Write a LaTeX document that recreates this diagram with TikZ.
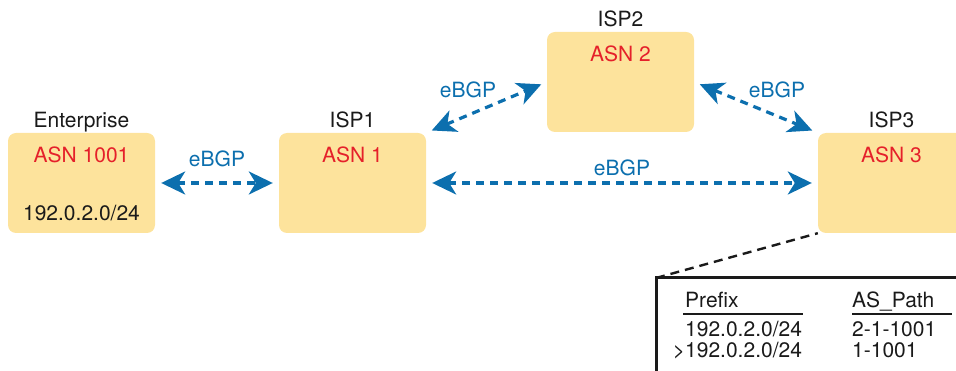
\documentclass[tikz,border=0pt]{standalone}
\usepackage{fontspec}
\setmainfont{TeX Gyre Heros}
\usetikzlibrary{positioning,arrows.meta}
\definecolor{asfill}{HTML}{FDE39C}
\definecolor{asred}{HTML}{E5202A}
\definecolor{peer}{HTML}{0C6FAE}
\definecolor{ink}{HTML}{1A1A1A}
\tikzset{
  asbox/.style={fill=asfill, rounded corners=8pt, minimum width=147pt, minimum height=100pt, inner sep=0pt},
  tag/.style={font=\fontsize{21}{25}\selectfont, text=ink, inner sep=0pt, anchor=base},
  asn/.style={tag, text=asred},
  lbl/.style={tag, text=peer},
  link/.style={{Stealth[length=24pt,width=23pt,inset=7pt]}-{Stealth[length=24pt,width=23pt,inset=7pt]},
               draw=peer, line width=3.2pt, dash pattern=on 8pt off 6pt, shorten <=6pt, shorten >=6pt},
  callout/.style={draw=ink, line width=2.4pt, dash pattern=on 9pt off 6pt},
  frame/.style={draw=ink, line width=3pt},
  rule/.style={draw=ink, line width=1.3pt},
}
\begin{document}
\begin{tikzpicture}[x=1pt, y=-1pt]
\clip (0,0) rectangle (956,371);

% --- autonomous systems ---
\node[asbox] (ent)  at (81.5,183) {};
\node[asbox] (isp1) at (352.5,183) {};
\node[asbox] (isp2) at (620.5,82) {};
\node[asbox] (isp3) at (891.5,183) {};

\node[tag] (entname)  at ([yshift=5pt]ent.north)  {Enterprise};
\node[tag] (isp1name) at ([yshift=5pt]isp1.north) {ISP1};
\node[tag] (isp2name) at ([yshift=5pt]isp2.north) {ISP2};
\node[tag] (isp3name) at ([yshift=5pt]isp3.north) {ISP3};

\node[asn] (entasn)  at ([yshift=-30pt]ent.north)  {ASN 1001};
\node[asn] (isp1asn) at ([yshift=-30pt]isp1.north) {ASN 1};
\node[asn] (isp2asn) at ([yshift=-30pt]isp2.north) {ASN 2};
\node[asn] (isp3asn) at ([yshift=-30pt]isp3.north) {ASN 3};
\node[tag] (entpfx)  at ([yshift=13pt]ent.south)   {192.0.2.0/24};

% --- eBGP peerings ---
\draw[link] (ent.east) -- node[lbl, yshift=16pt] {eBGP} (isp1.west);
\draw[link] (isp1.east) -- node[lbl, yshift=7pt] {eBGP} (isp3.west);
\draw[link] (isp1.north east) -- node[lbl, xshift=-18.5pt, yshift=9.5pt] {eBGP} (isp2.west);
\draw[link] (isp2.east) -- node[lbl, xshift=21pt, yshift=9.5pt] {eBGP} (isp3.north west);

% --- ISP3 BGP table ---
\coordinate (tab) at (656,278);
\draw[callout] (tab) -- (isp3.south west);
\draw[frame] ([yshift=-110pt]tab) -- (tab) -- ([xshift=320pt]tab);

\node[tag, anchor=base west] (hdpfx)  at (685,308) {Prefix};
\node[tag, anchor=base west] (hdpath) at (852,308) {AS\_Path};
\draw[rule] ([xshift=-2pt,yshift=-6pt]hdpfx.base west) -- ++(120,0);
\draw[rule] ([yshift=-6pt]hdpath.base west) -- ++(100,0);

\node[tag, anchor=base west] (r1pfx)  at (685,337) {192.0.2.0/24};
\node[tag, anchor=base west] (r1path) at (852,337) {2-1-1001};
\node[tag, anchor=base east] (r2pfx)  at (r1pfx.base east |- 0,358) {>192.0.2.0/24};
\node[tag, anchor=base west] (r2path) at (852,358) {1-1001};

\end{tikzpicture}
\end{document}
